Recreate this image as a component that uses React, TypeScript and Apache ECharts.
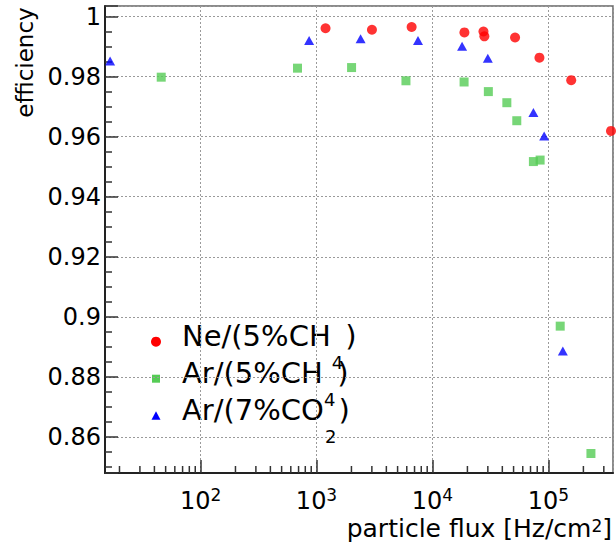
import React, { useEffect, useRef } from 'react';
import * as echarts from 'echarts';

// ---- data ----
const seriesNames = ['Ne/(5%CH4)', 'Ar/(5%CH4)', 'Ar/(7%CO2)'];
const legendMain = ['Ne/(5%CH', 'Ar/(5%CH', 'Ar/(7%CO'];
const legendSub = ['4', '4', '2'];

const neFlux = [1196, 3005, 6607, 18840, 27500, 28000, 51500, 83560, 157000, 345900];
const neEff = [0.9961, 0.9956, 0.9965, 0.9947, 0.995, 0.9934, 0.993, 0.9863, 0.9788, 0.9619];

const arCh4Flux = [45.8, 685, 2005, 5902, 18720, 30310, 43750, 53300, 74130, 84700, 126200, 232300];
const arCh4Eff = [0.9798, 0.9828, 0.983, 0.9786, 0.9782, 0.975, 0.9713, 0.9653, 0.9517, 0.9522, 0.8969, 0.8545];

const arCo2Flux = [16.6, 863, 2399, 7499, 17990, 29990, 74130, 91770, 133000];
const arCo2Eff = [0.9852, 0.992, 0.9926, 0.992, 0.9901, 0.9861, 0.968, 0.9602, 0.8886];

const xMinorTicks = [
  20, 30, 40, 50, 60, 70, 80, 90,
  200, 300, 400, 500, 600, 700, 800, 900,
  2000, 3000, 4000, 5000, 6000, 7000, 8000, 9000,
  20000, 30000, 40000, 50000, 60000, 70000, 80000, 90000,
  200000, 300000,
];

const X_MIN = 15;
const X_MAX = 360000;
const Y_MIN = 0.848;
const Y_MAX = 1.0035;

const FONT = 'DejaVu Sans';
const RED = '#ff0000';
const GREEN = '#55cc55';
const BLUE = '#0000ff';

const zip = (xs: number[], ys: number[]) => xs.map((x, i) => [x, ys[i]]);

export default function App() {
  const ref = useRef<HTMLDivElement>(null);

  useEffect(() => {
    if (!ref.current) return;
    const chart = echarts.init(ref.current, undefined, { renderer: 'svg' });

    const legendTop = 321;
    const legendStep = 37;
    const legendGraphics: any[] = [];
    const symX = 156;
    legendMain.forEach((m, i) => {
      const cy = 341.7 + legendStep * i;
      if (i === 0) {
        legendGraphics.push({ type: 'circle', shape: { cx: symX, cy, r: 5 }, style: { fill: RED } });
      } else if (i === 1) {
        legendGraphics.push({ type: 'rect', shape: { x: symX - 4, y: cy - 4, width: 8, height: 8 }, style: { fill: GREEN } });
      } else {
        legendGraphics.push({
          type: 'polygon',
          shape: { points: [[symX, cy - 4.5], [symX + 4.5, cy + 4], [symX - 4.5, cy + 4]] },
          style: { fill: BLUE },
        });
      }
      legendGraphics.push({
        type: 'text',
        x: 182,
        y: legendTop + legendStep * i,
        style: {
          text: `{m|${m}}{s|${legendSub[i]}}{m|)}`,
          align: 'left',
          verticalAlign: 'top',
          fill: '#000',
          rich: {
            m: { fontSize: 29, lineHeight: 34, verticalAlign: 'top', fontFamily: FONT, fill: '#000' },
            s: { fontSize: 18, lineHeight: 14, verticalAlign: 'top', padding: [32, 2, 0, 1], fontFamily: FONT, fill: '#000' },
          },
        },
      });
    });

    const option: any = {
      animation: false,
      backgroundColor: '#fff',
      textStyle: { fontFamily: FONT },
      grid: {
        left: 105,
        right: 3,
        top: 6,
        bottom: 73,
        show: true,
        borderColor: '#666',
        borderWidth: 1.5,
        containLabel: false,
        outerBoundsMode: 'none',
      },
      xAxis: {
        type: 'log',
        logBase: 10,
        min: X_MIN,
        max: X_MAX,
        axisLine: { show: true, onZero: false, lineStyle: { color: '#222', width: 2 } },
        axisTick: { show: true, inside: true, length: 13, lineStyle: { color: '#333', width: 1.5 } },
        minorTick: { show: false },
        splitLine: { show: true, lineStyle: { color: '#9a9a9a', type: [2, 2], width: 1 } },
        axisLabel: {
          margin: 13,
          showMinLabel: false,
          showMaxLabel: false,
          color: '#000',
          formatter: (v: number) => {
            const e = Math.round(Math.log10(v));
            if (Math.abs(Math.log10(v) - e) > 1e-6) return '';
            return `{b|10}{s|${e}}`;
          },
          rich: {
            b: { fontSize: 24, lineHeight: 27, verticalAlign: 'bottom', fontFamily: FONT, color: '#000' },
            s: { fontSize: 17, lineHeight: 12, verticalAlign: 'top', fontFamily: FONT, color: '#000' },
          },
        },
      },
      yAxis: {
        type: 'value',
        min: Y_MIN,
        max: Y_MAX,
        splitNumber: 8,
        axisLine: { show: true, onZero: false, lineStyle: { color: '#222', width: 2 } },
        axisTick: { show: true, inside: true, length: 13, lineStyle: { color: '#333', width: 1.5 } },
        minorTick: { show: true, splitNumber: 4, length: 7, lineStyle: { color: '#333', width: 1.5 } },
        splitLine: { show: true, lineStyle: { color: '#9a9a9a', type: [2, 2], width: 1 } },
        axisLabel: {
          margin: 4,
          showMinLabel: false,
          showMaxLabel: false,
          fontSize: 24,
          fontFamily: FONT,
          color: '#000',
          formatter: (v: number) => {
            const r = Math.round(v * 100) / 100;
            if (Math.abs(v - r) > 1e-6) return '';
            if (Math.round(r * 100) % 2 !== 0) return '';
            return String(r);
          },
        },
      },
      graphic: [
        {
          type: 'text',
          x: 25,
          y: 62.5,
          rotation: Math.PI / 2,
          style: {
            text: 'efficiency',
            fontSize: 23,
            fontFamily: FONT,
            fill: '#000',
            align: 'center',
            verticalAlign: 'middle',
          },
        },
        {
          type: 'text',
          x: 612,
          y: 517,
          style: {
            text: '{t|particle flux [Hz/cm}{s|2}{t|]}',
            align: 'right',
            verticalAlign: 'top',
            fill: '#000',
            rich: {
              t: { fontSize: 25, lineHeight: 24, verticalAlign: 'bottom', fontFamily: FONT, fill: '#000' },
              s: { fontSize: 17, lineHeight: 14, verticalAlign: 'top', fontFamily: FONT, fill: '#000' },
            },
          },
        },
        ...legendGraphics,
      ],
      series: [
        {
          type: 'custom',
          silent: true,
          clip: false,
          z: 5,
          data: xMinorTicks.map((v) => [v, Y_MIN]),
          renderItem: (_params: any, api: any) => {
            const p = api.coord([api.value(0), api.value(1)]);
            return {
              type: 'line',
              shape: { x1: p[0], y1: p[1], x2: p[0], y2: p[1] - 7 },
              style: { stroke: '#333', lineWidth: 1.5 },
            };
          },
        },
        {
          name: seriesNames[0],
          type: 'scatter',
          symbol: 'circle',
          symbolSize: 10,
          itemStyle: { color: RED },
          data: zip(neFlux, neEff),
          z: 3,
        },
        {
          name: seriesNames[1],
          type: 'scatter',
          symbol: 'rect',
          symbolSize: 9,
          itemStyle: { color: GREEN },
          data: zip(arCh4Flux, arCh4Eff),
          z: 2,
        },
        {
          name: seriesNames[2],
          type: 'scatter',
          symbol: 'triangle',
          symbolSize: [10, 9],
          itemStyle: { color: BLUE },
          data: zip(arCo2Flux, arCo2Eff),
          z: 2,
        },
      ],
    };

    chart.setOption(option);
    return () => chart.dispose();
  }, []);

  return (
    <div style={{ position: 'fixed', left: 0, top: 0, width: 616, height: 546, background: '#fff' }}>
      <div ref={ref} style={{ width: 616, height: 546 }} />
    </div>
  );
}
